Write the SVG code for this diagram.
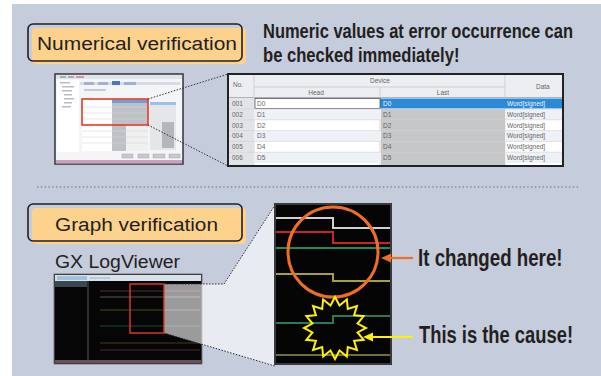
<svg xmlns="http://www.w3.org/2000/svg" width="601" height="376" viewBox="0 0 601 376">
<style>
.lbl{font-family:"Liberation Sans",Arial,sans-serif;font-size:18px;fill:#231f20}
.hd{font-family:"Liberation Sans",Arial,sans-serif;font-weight:bold;fill:#231f20}
.tb{font-family:"Liberation Sans",Arial,sans-serif;font-size:6.5px;fill:#666}
.dot{fill:none;stroke:#333;stroke-width:1;stroke-dasharray:1.5 1.5}
.box{fill:none;stroke:#231f20;stroke-width:1.6}
.fill{fill:#fcd28c}
</style>
<defs>
<clipPath id="tclip"><rect x="228" y="74" width="335" height="92"/></clipPath>
</defs>
<rect x="0" y="0" width="601" height="376" fill="#ffffff"/>
<rect x="12" y="4" width="589" height="372" fill="#c5ccdc"/>

<g id="numerical-label">
<rect class="fill" x="32" y="28" width="214" height="36" rx="4"/>
<rect class="box" x="28" y="24" width="214" height="37" rx="5"/>
<text class="lbl" x="37" y="50" textLength="200" lengthAdjust="spacingAndGlyphs">Numerical verification</text>
</g>

<g id="numeric-title">
<text class="hd" transform="translate(263,38) scale(0.803,1)" x="0" y="0" font-size="20.5">Numeric values at error occurrence can</text>
<text class="hd" transform="translate(263,62) scale(0.81,1)" x="0" y="0" font-size="20.5">be checked immediately!</text>
</g>

<g id="thumb1">
<rect x="55" y="74" width="128" height="90" fill="#f4f5f7" stroke="#333" stroke-width="1.5"/>
<rect x="56" y="75" width="126" height="4" fill="#dfe3ea"/>
<rect x="60" y="76" width="6" height="2" fill="#aab"/>
<rect x="68" y="76" width="6" height="2" fill="#aab"/>
<rect x="76" y="76" width="8" height="2" fill="#c9a"/>
<rect x="57" y="80" width="22" height="72" fill="#ffffff"/>
<g fill="#b8bcc4">
<rect x="60" y="82" width="10" height="1.5"/><rect x="62" y="86" width="12" height="1.5"/><rect x="62" y="90" width="10" height="1.5"/><rect x="64" y="94" width="8" height="1.5"/><rect x="64" y="98" width="10" height="1.5"/><rect x="64" y="102" width="8" height="1.5"/><rect x="62" y="106" width="9" height="1.5"/>
</g>
<rect x="80" y="82" width="100" height="3" fill="#d6dce6"/>
<rect x="84" y="82" width="10" height="3" fill="#9fb3d6"/>
<rect x="98" y="82" width="10" height="3" fill="#9fb3d6"/>
<rect x="112" y="81" width="8" height="4" fill="#4a78c0"/>
<rect x="124" y="82" width="12" height="3" fill="#9fb3d6"/>
<rect x="84" y="89" width="22" height="2" fill="#c6cad2"/>
<rect x="82" y="99" width="30" height="52" fill="#ffffff"/>
<rect x="112" y="99" width="36" height="52" fill="#bfc1c6"/>
<rect x="112" y="100" width="36" height="3" fill="#6aa0dc"/>
<rect x="126" y="125" width="22" height="26" fill="#f0f0f0"/>
<rect x="150" y="102" width="26" height="48" fill="#e4e6ea"/>
<rect x="150" y="102" width="26" height="3" fill="#9cc0e8"/>
<rect x="162" y="122" width="12" height="26" fill="#b4b6bb"/>
<g stroke="#d4d6da" stroke-width="0.6">
<line x1="82" y1="107" x2="148" y2="107"/><line x1="82" y1="113" x2="148" y2="113"/><line x1="82" y1="119" x2="148" y2="119"/><line x1="82" y1="131" x2="148" y2="131"/><line x1="82" y1="137" x2="148" y2="137"/><line x1="82" y1="143" x2="148" y2="143"/>
</g>
<g fill="#c8cacf" stroke="#999" stroke-width="0.4">
<rect x="122" y="154" width="11" height="4"/><rect x="138" y="154" width="11" height="4"/><rect x="153" y="154" width="12" height="4"/><rect x="169" y="154" width="11" height="4"/>
</g>
<rect x="56" y="160" width="126" height="3.5" fill="#c9a0c0"/>
<rect x="82" y="99" width="66" height="26" fill="none" stroke="#e8392a" stroke-width="1.6"/>
</g>

<g id="table">
<rect x="228" y="74" width="335" height="92" fill="#ffffff"/>
<g clip-path="url(#tclip)">
<rect x="228" y="74" width="335" height="24" fill="#eceef1"/>
<line x1="254" y1="87" x2="505" y2="87" stroke="#c8cacd" stroke-width="0.8"/>
<line x1="228" y1="97.5" x2="563" y2="97.5" stroke="#b0b2b6" stroke-width="1"/>
<g stroke="#c8cacd" stroke-width="0.8">
<line x1="254" y1="74" x2="254" y2="166"/><line x1="380" y1="87" x2="380" y2="166"/><line x1="505" y1="74" x2="505" y2="166"/>
</g>
<text class="tb" x="233" y="87">No.</text>
<text class="tb" x="380" y="83" text-anchor="middle">Device</text>
<text class="tb" x="316" y="95" text-anchor="middle">Head</text>
<text class="tb" x="443" y="95" text-anchor="middle">Last</text>
<text class="tb" x="536" y="89">Data</text>
<rect x="228" y="109" width="335" height="10.8" fill="#eef1f6"/>
<rect x="228" y="130.6" width="335" height="10.8" fill="#eef1f6"/>
<rect x="228" y="152.2" width="335" height="10.8" fill="#eef1f6"/>
<rect x="228" y="98" width="26" height="68" fill="#e2e3e6"/>
<rect x="381" y="109" width="124" height="57" fill="#c6c7c9"/>
<rect x="380" y="98.5" width="183" height="10" fill="#2a8ad6"/>
<rect x="255" y="98.5" width="125" height="10" fill="#ffffff" stroke="#555" stroke-width="0.8"/>
<g stroke="#d0d2d6" stroke-width="0.6">
<line x1="228" y1="109" x2="563" y2="109"/><line x1="228" y1="119.8" x2="563" y2="119.8"/><line x1="228" y1="130.6" x2="563" y2="130.6"/><line x1="228" y1="141.4" x2="563" y2="141.4"/><line x1="228" y1="152.2" x2="563" y2="152.2"/>
</g>
<g class="tb">
<text x="232" y="106">001</text><text x="232" y="117">002</text><text x="232" y="128">003</text><text x="232" y="138">004</text><text x="232" y="149">005</text><text x="232" y="160">006</text>
<text x="257" y="106">D0</text><text x="257" y="117">D1</text><text x="257" y="128">D2</text><text x="257" y="138">D3</text><text x="257" y="149">D4</text><text x="257" y="160">D5</text>
<text x="383" y="106" style="fill:#e8f2ff">D0</text><text x="383" y="117">D1</text><text x="383" y="128">D2</text><text x="383" y="138">D3</text><text x="383" y="149">D4</text><text x="383" y="160">D5</text>
<text x="507" y="106" style="fill:#e8f2ff">Word[signed]</text><text x="507" y="117">Word[signed]</text><text x="507" y="128">Word[signed]</text><text x="507" y="138">Word[signed]</text><text x="507" y="149">Word[signed]</text><text x="507" y="160">Word[signed]</text>
</g>
</g>
<rect x="228" y="74" width="335" height="92" fill="none" stroke="#222" stroke-width="2"/>
</g>

<line x1="37" y1="187" x2="578" y2="187" stroke="#8a8f9a" stroke-width="1.5" stroke-dasharray="1.5 2.3"/>

<g id="graph-label">
<rect class="fill" x="32" y="208" width="214" height="36" rx="4"/>
<rect class="box" x="28" y="204" width="214" height="37" rx="5"/>
<text class="lbl" x="55" y="231" textLength="163" lengthAdjust="spacingAndGlyphs">Graph verification</text>
</g>

<g id="logviewer-title">
<text class="lbl" x="55" y="268" font-size="17" textLength="125" lengthAdjust="spacingAndGlyphs">GX LogViewer</text>
</g>

<g id="thumb2">
<rect x="54" y="274" width="148" height="90" fill="#060606" stroke="#777" stroke-width="1"/>
<rect x="55" y="275" width="146" height="6" fill="#d8e2ea"/>
<rect x="57" y="276" width="30" height="4" fill="#9ec4e0"/>
<rect x="90" y="277" width="20" height="2" fill="#b9cbd8"/>
<rect x="55" y="281" width="32" height="6" fill="#3a4650"/>
<line x1="88" y1="281" x2="88" y2="364" stroke="#555" stroke-width="1"/>
<g stroke-width="1.2">
<line x1="100" y1="291" x2="200" y2="291" stroke="#5a2a30"/>
<line x1="100" y1="297" x2="200" y2="297" stroke="#555"/>
<line x1="100" y1="310" x2="200" y2="310" stroke="#4a4a22"/>
<line x1="100" y1="326" x2="200" y2="326" stroke="#1f4a38"/>
<line x1="100" y1="343" x2="200" y2="343" stroke="#3f3f20"/>
<line x1="100" y1="350" x2="200" y2="350" stroke="#4a2a30"/>
</g>
<rect x="55" y="360" width="146" height="3" fill="#6a5058"/>
</g>

<g id="zoom-projection">
<polygon points="164,284 224,284 275,205 275,366 164,333" fill="#ffffff" fill-opacity="0.6"/>
<polyline class="dot" points="164,284 224,284 275,205"/>
<line class="dot" x1="164" y1="333" x2="275" y2="366"/>
<rect x="130" y="284" width="34" height="49" fill="none" stroke="#e8392a" stroke-width="1.4"/>
</g>

<g id="waveform">
<rect x="275" y="204" width="116" height="160" fill="#050505" stroke="#3a3a3a" stroke-width="2"/>
<g fill="none" stroke-width="2">
<polyline points="276,218 333,218 333,228 390,228" stroke="#cfd0d0"/>
<polyline points="276,232 333,232 333,243 390,243" stroke="#c8242e"/>
<line x1="276" y1="248" x2="390" y2="248" stroke="#1f8a60"/>
<polyline points="276,274 333,274 333,281 390,281" stroke="#a8a040"/>
<polyline points="276,323 333,323 333,316 390,316" stroke="#2a7a5a"/>
<line x1="276" y1="355" x2="390" y2="355" stroke="#6e6e3a"/>
</g>
<circle cx="333" cy="252" r="45" fill="none" stroke="#ee6f23" stroke-width="3"/>
<polygon transform="translate(335,328)" fill="none" stroke="#fff200" stroke-width="2" stroke-linejoin="miter" points="0,-31 4.49,-22.56 11.86,-28.64 12.78,-19.12 21.92,-21.92 19.12,-12.78 28.64,-11.86 22.56,-4.49 31,0 22.56,4.49 28.64,11.86 19.12,12.78 21.92,21.92 12.78,19.12 11.86,28.64 4.49,22.56 0,31 -4.49,22.56 -11.86,28.64 -12.78,19.12 -21.92,21.92 -19.12,12.78 -28.64,11.86 -22.56,4.49 -31,0 -22.56,-4.49 -28.64,-11.86 -19.12,-12.78 -21.92,-21.92 -12.78,-19.12 -11.86,-28.64 -4.49,-22.56"/>
</g>

<g id="connectors">
<line class="dot" x1="148" y1="99" x2="228" y2="74"/>
<line class="dot" x1="148" y1="125" x2="228" y2="166"/>
<line x1="413" y1="258" x2="389" y2="258" stroke="#ee6f23" stroke-width="2.2"/>
<polygon points="381,258 391,253.5 391,262.5" fill="#ee6f23"/>
<line x1="413" y1="337" x2="371" y2="337" stroke="#fff200" stroke-width="2.2"/>
<polygon points="363,337 373,332.5 373,341.5" fill="#fff200"/>
</g>

<g id="callouts">
<text class="hd" transform="translate(418,266) scale(0.78,1)" x="0" y="0" font-size="24">It changed here!</text>
<text class="hd" transform="translate(419,343) scale(0.765,1)" x="0" y="0" font-size="24">This is the cause!</text>
</g>
</svg>
